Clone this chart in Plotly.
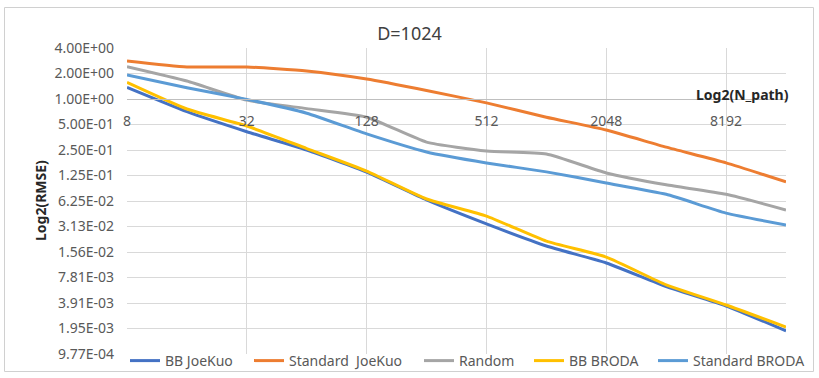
import plotly.graph_objects as go

# ---- data ----
n_path = [8, 16, 32, 64, 128, 256, 512, 1024, 2048, 4096, 8192, 16384]
bb_joekuo = [1.37, 0.708, 0.411, 0.25, 0.137, 0.0643, 0.0335, 0.0184, 0.0116, 0.0061, 0.0036, 0.00183]
standard_joekuo = [2.81, 2.39, 2.39, 2.14, 1.72, 1.26, 0.90, 0.61, 0.43, 0.27, 0.176, 0.105]
random_seq = [2.41, 1.63, 0.97, 0.77, 0.61, 0.31, 0.243, 0.224, 0.134, 0.097, 0.075, 0.049]
bb_broda = [1.57, 0.762, 0.48, 0.26, 0.141, 0.066, 0.0415, 0.021, 0.0136, 0.0064, 0.0037, 0.00203]
standard_broda = [1.92, 1.36, 0.99, 0.68, 0.387, 0.237, 0.176, 0.138, 0.102, 0.075, 0.045, 0.0326]

series_names = ["BB JoeKuo", "Standard  JoeKuo", "Random", "BB BRODA", "Standard BRODA"]
series_values = [bb_joekuo, standard_joekuo, random_seq, bb_broda, standard_broda]
series_colors = ["#4472C4", "#ED7D31", "#A5A5A5", "#FFC000", "#5B9BD5"]

x_tick_vals = [8, 32, 128, 512, 2048, 8192]
y_tick_vals = [2.0 ** k for k in range(2, -11, -1)]
y_tick_text = ["4.00E+00", "2.00E+00", "1.00E+00", "5.00E-01", "2.50E-01", "1.25E-01",
               "6.25E-02", "3.13E-02", "1.56E-02", "7.81E-03", "3.91E-03", "1.95E-03", "9.77E-04"]

# ---- layout geometry (pixels) ----
W, H = 819, 378
L, R, T, B = 127, 786, 48, 354
PW, PH = R - L, B - T

def px_x(p):
    return (p - L) / PW

def px_y(p):
    return (B - p) / PH

FONT = "Noto Sans"
GRAY_TXT = "#595959"

fig = go.Figure()
legend_text_starts = [165, 289, 459, 569, 693]
legend_keys = ["legend", "legend2", "legend3", "legend4", "legend5"]
for name, vals, col, lk in zip(series_names, series_values, series_colors, legend_keys):
    fig.add_trace(go.Scatter(
        x=n_path, y=vals, name=name, mode="lines",
        line=dict(color=col, width=3, shape="spline", smoothing=0.5),
        legend=lk, hoverinfo="skip",
    ))

layout = dict(
    width=W, height=H,
    margin=dict(l=L, r=W - R, t=T, b=H - B, pad=0, autoexpand=False),
    paper_bgcolor="white", plot_bgcolor="white",
    font=dict(family=FONT, size=14, color=GRAY_TXT),
    title=dict(text="D=1024", x=0.5, xref="container", xanchor="center",
               y=1 - 34 / H, yref="container", yanchor="middle",
               font=dict(family=FONT, size=18, color="#404040")),
    xaxis=dict(type="log", range=[0.903090, 4.214420],
               tickvals=x_tick_vals, ticktext=[str(v) for v in x_tick_vals],
               showgrid=True, gridcolor="#d9d9d9", gridwidth=1,
               showline=True, linecolor="#bfbfbf", linewidth=1,
               anchor="free", position=px_y(99), ticks="", ticklabelstandoff=9,
               zeroline=False, automargin=False, tickfont=dict(size=14, color=GRAY_TXT)),
    yaxis=dict(type="log", range=[-3.0103, 0.60206],
               tickvals=y_tick_vals, ticktext=y_tick_text,
               showgrid=True, gridcolor="#d9d9d9", gridwidth=1,
               showline=False, zeroline=False, ticks="", ticklabelstandoff=12,
               automargin=False, tickfont=dict(size=14, color=GRAY_TXT)),
    shapes=[dict(type="rect", xref="paper", yref="paper",
                 x0=px_x(4.5), x1=px_x(813.5), y0=px_y(371.5), y1=px_y(7.5),
                 line=dict(color="#d0d0d0", width=1), fillcolor="rgba(0,0,0,0)", layer="above")],
    annotations=[
        dict(text="<b>Log2(N_path)</b>", xref="paper", yref="paper",
             x=px_x(791), y=px_y(94), xanchor="right", yanchor="middle",
             showarrow=False, font=dict(family=FONT, size=14, color="#262626")),
        dict(text="<b>Log2(RMSE)</b>", xref="paper", yref="paper",
             x=px_x(40), y=0.5, xanchor="center", yanchor="middle", textangle=-90,
             showarrow=False, font=dict(family=FONT, size=14, color="#262626")),
    ],
    showlegend=True,
    hovermode=False,
)
for lk, ts in zip(legend_keys, legend_text_starts):
    layout[lk] = dict(x=px_x(ts - 40), y=px_y(361), xanchor="left", yanchor="middle",
                      orientation="h", bgcolor="rgba(0,0,0,0)", borderwidth=0,
                      font=dict(family=FONT, size=14, color=GRAY_TXT))
fig.update_layout(**layout)
fig.write_html("out.html", config={"displayModeBar": False},
               post_script="document.body.style.margin='0px';")
